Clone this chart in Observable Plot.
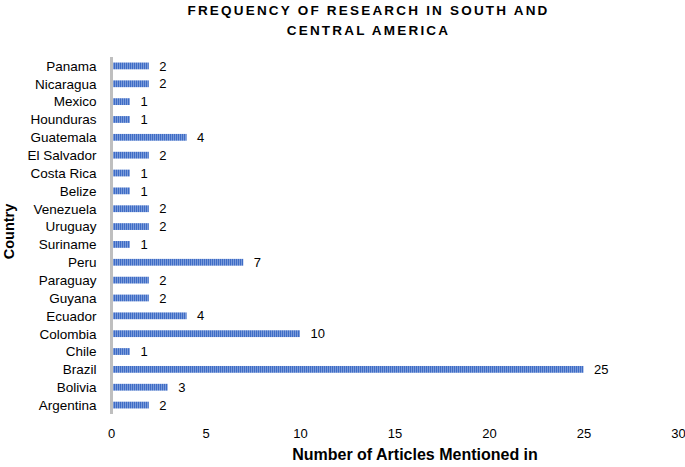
<!DOCTYPE html>
<html>
<head>
<meta charset="utf-8">
<script src="https://cdn.jsdelivr.net/npm/d3@7"></script>
<script src="https://cdn.jsdelivr.net/npm/@observablehq/plot@0.6"></script>
<style>
  body { margin: 0; background: #fff; }
  #title { width: 685px; height: 45px; box-sizing: border-box; padding: 1px 0 0 52px; text-align: center;
    font-family: "Liberation Sans", Arial, sans-serif; font-weight: bold; font-size: 13.5px; letter-spacing: 2.2px; line-height: 20px; color: #000; }
</style>
</head>
<body>
<div id="title">FREQUENCY OF RESEARCH IN SOUTH AND<br>CENTRAL AMERICA</div>
<div id="chart"></div>
<script>
const countries = ["Panama","Nicaragua","Mexico","Hounduras","Guatemala","El Salvador","Costa Rica","Belize","Venezuela","Uruguay","Suriname","Peru","Paraguay","Guyana","Ecuador","Colombia","Chile","Brazil","Bolivia","Argentina"];
const articles = [2,2,1,1,4,2,1,1,2,2,1,7,2,2,4,10,1,25,3,2];
const xTicks = [0,5,10,15,20,25,30];
const xTitle = "Number of Articles Mentioned in";
const yTitle = "Country";

const data = countries.map((c, i) => ({country: c, value: articles[i]}));
const font = "Liberation Sans, Arial, sans-serif";

const svg = Plot.plot({
  width: 685,
  height: 422,
  marginLeft: 111,
  marginRight: 7,
  marginTop: 12,
  marginBottom: 53,
  style: {fontFamily: font, fontSize: "13px", color: "#000", background: "#fff"},
  x: {domain: [0, 30], ticks: xTicks},
  y: {domain: countries, paddingInner: 0.62, paddingOuter: 0.31, round: false},
  marks: [
    Plot.barX(data, {x: "value", y: "country", fill: "url(#stripes)"}),
    Plot.ruleX([0], {stroke: "#bfbfbf", strokeWidth: 3}),
    Plot.text(data, {x: "value", y: "country", text: d => String(d.value), dx: 10, textAnchor: "start", fontSize: 13, fill: "#000"}),
    Plot.axisY({tickSize: 0, tickPadding: 15, label: null, fontSize: 13.5}),
    Plot.axisX({tickSize: 0, tickPadding: 14, label: null, fontSize: 13, ticks: xTicks}),
    Plot.text([xTitle], {frameAnchor: "bottom", dx: 20, dy: 45, fontWeight: "bold", fontSize: 16, fill: "#000"}),
    Plot.text([yTitle], {frameAnchor: "left", textAnchor: "middle", dx: -102, dy: -4.5, rotate: -90, fontWeight: "bold", fontSize: 14.5, fill: "#000"})
  ]
});

d3.select(svg).insert("defs", ":first-child").html(
  '<pattern id="stripes" patternUnits="userSpaceOnUse" width="2" height="10">' +
  '<rect width="2" height="10" fill="#a3bae6"/>' +
  '<rect width="1.4" height="10" fill="#3e6cc6"/></pattern>'
);

document.getElementById("chart").appendChild(svg);
</script>
</body>
</html>
